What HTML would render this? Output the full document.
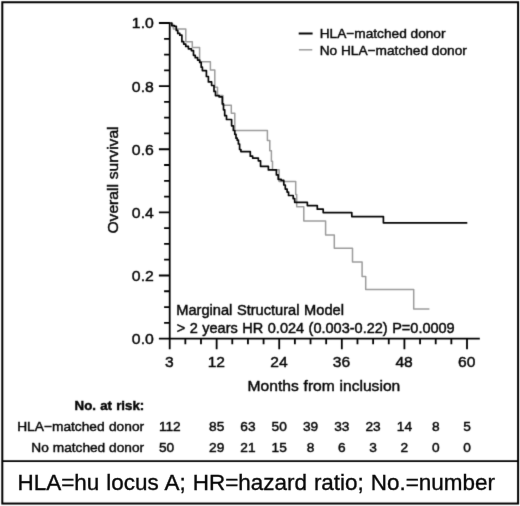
<!DOCTYPE html>
<html><head><meta charset="utf-8"><title>Overall survival</title>
<style>
html,body{margin:0;padding:0;background:#fff;}
body{width:520px;height:506px;overflow:hidden;}
svg{display:block;}
svg text{font-family:"Liberation Sans",sans-serif;fill:#050505;stroke:#050505;stroke-width:0.45px;}
</style></head><body>
<svg width="520" height="506" viewBox="0 0 520 506">
<defs><filter id="bl" x="0" y="0" width="520" height="506" filterUnits="userSpaceOnUse" color-interpolation-filters="sRGB"><feConvolveMatrix order="3" kernelMatrix="0.0113 0.0838 0.0113 0.0838 0.6193 0.0838 0.0113 0.0838 0.0113" edgeMode="duplicate" preserveAlpha="false"/></filter><filter id="bl2" x="0" y="462" width="520" height="44" filterUnits="userSpaceOnUse" color-interpolation-filters="sRGB"><feConvolveMatrix order="3" kernelMatrix="0.0009 0.0278 0.0009 0.0278 0.8855 0.0278 0.0009 0.0278 0.0009" edgeMode="duplicate" preserveAlpha="false"/></filter></defs>
<rect x="0" y="0" width="520" height="506" fill="#ffffff"/>
<g filter="url(#bl)">
<path d="M169.7,22.2 V349.3" stroke="#000" stroke-width="1.8" fill="none"/>
<path d="M158.89999999999998,338.6 H479.8" stroke="#000" stroke-width="1.8" fill="none"/>
<path d="M164.1,322.82 H169.7 M164.1,307.04 H169.7 M164.1,291.26 H169.7 M158.89999999999998,275.48 H169.7 M164.1,259.70 H169.7 M164.1,243.92 H169.7 M164.1,228.14 H169.7 M158.89999999999998,212.36 H169.7 M164.1,196.58 H169.7 M164.1,180.80 H169.7 M164.1,165.02 H169.7 M158.89999999999998,149.24 H169.7 M164.1,133.46 H169.7 M164.1,117.68 H169.7 M164.1,101.90 H169.7 M158.89999999999998,86.12 H169.7 M164.1,70.34 H169.7 M164.1,54.56 H169.7 M164.1,38.78 H169.7 M158.89999999999998,23.00 H169.7 " stroke="#000" stroke-width="1.8" fill="none"/>
<path d="M185.35,338.6 V344.20000000000005 M200.99,338.6 V344.20000000000005 M216.64,338.6 V349.3 M232.29,338.6 V344.20000000000005 M247.94,338.6 V344.20000000000005 M263.58,338.6 V344.20000000000005 M279.23,338.6 V349.3 M294.88,338.6 V344.20000000000005 M310.53,338.6 V344.20000000000005 M326.17,338.6 V344.20000000000005 M341.82,338.6 V349.3 M357.47,338.6 V344.20000000000005 M373.12,338.6 V344.20000000000005 M388.76,338.6 V344.20000000000005 M404.41,338.6 V349.3 M420.06,338.6 V344.20000000000005 M435.71,338.6 V344.20000000000005 M451.35,338.6 V344.20000000000005 M467.00,338.6 V349.3 " stroke="#000" stroke-width="1.8" fill="none"/>
<text transform="translate(153.80,344.00) scale(1,0.96)" font-size="15.8" text-anchor="end">0.0</text>
<text transform="translate(153.80,280.88) scale(1,0.96)" font-size="15.8" text-anchor="end">0.2</text>
<text transform="translate(153.80,217.76) scale(1,0.96)" font-size="15.8" text-anchor="end">0.4</text>
<text transform="translate(153.80,154.64) scale(1,0.96)" font-size="15.8" text-anchor="end">0.6</text>
<text transform="translate(153.80,91.52) scale(1,0.96)" font-size="15.8" text-anchor="end">0.8</text>
<text transform="translate(153.80,28.40) scale(1,0.96)" font-size="15.8" text-anchor="end">1.0</text>
<text transform="translate(169.40,367.20) scale(1,0.96)" font-size="15.6" text-anchor="middle">3</text>
<text transform="translate(216.34,367.20) scale(1,0.96)" font-size="15.6" text-anchor="middle">12</text>
<text transform="translate(278.93,367.20) scale(1,0.96)" font-size="15.6" text-anchor="middle">24</text>
<text transform="translate(341.52,367.20) scale(1,0.96)" font-size="15.6" text-anchor="middle">36</text>
<text transform="translate(404.11,367.20) scale(1,0.96)" font-size="15.6" text-anchor="middle">48</text>
<text transform="translate(466.70,367.20) scale(1,0.96)" font-size="15.6" text-anchor="middle">60</text>
<text transform="translate(323.90,390.70) scale(1,0.96)" font-size="15.6" text-anchor="middle" word-spacing="0.5">Months from inclusion</text>
<text transform="translate(117.50,180.00) rotate(-90) scale(1,0.96)" font-size="15.6" text-anchor="middle" word-spacing="0.5">Overall survival</text>
<polyline points="170.3,23.1 172.5,23.5 173.5,29 185.8,29 185.8,41.7 192.3,41.7 192.3,47.6 199.6,47.6 199.6,61.8 210.4,61.8 210.4,70.1 214.8,70.1 214.8,87.3 217.5,87.3 217.5,95.6 222.9,95.6 222.9,105.2 231.3,105.2 231.3,113.3 234.8,113.3 234.8,130.5 267.4,130.5 267.4,140.6 269.8,140.6 269.8,150.7 271.4,150.7 271.4,161.3 272.5,161.3 272.5,169.8 279.1,169.8 279.1,181.6 295.7,181.6 295.7,194.5 296.7,194.5 296.7,206.8 303.8,206.8 303.8,221.1 325.6,221.1 325.6,235 334.3,235 334.3,248.2 352.5,248.2 352.5,262.1 362.1,262.1 362.1,276.5 365.7,276.5 365.7,289.5 413.7,289.5 413.7,309 429.4,309" stroke="#9c9c9c" stroke-width="1.5" fill="none" stroke-linejoin="round"/>
<path d="M170.3,23.1 H171.80 V25.7 H173.3 H174.50 V26.3 H175.7 H176.30 V30.4 H176.9 H177.75 V33.4 H178.6 H179.80 V35.2 H181 H181.90 V41.7 H182.8 H183.70 V44.1 H184.6 H185.75 V46.4 H186.9 H188.40 V48.8 H189.9 H191.40 V50.6 H192.9 H193.50 V55.3 H194.1 H195.25 V57.7 H196.4 H197.60 V60.1 H198.8 H199.70 V62.4 H200.6 H201.20 V67.2 H201.8 H202.40 V70.6 H203 H204.40 V70.6 H205.8 H206.40 V76.5 H207 H208.40 V81.9 H209.8 H211.60 V85.5 H213.4 H214.00 V91.4 H214.6 H215.50 V95.6 H216.4 H219.05 V96.8 H221.7 H222.30 V103.9 H222.9 H223.50 V109.8 H224.1 H224.70 V115.7 H225.3 H226.50 V119.5 H227.7 H229.20 V119.5 H230.7 H231.60 V125.8 H232.5 H233.35 V130.5 H234.2 H234.80 V134.3 H235.4 H236.00 V138.2 H236.6 H237.20 V140.2 H237.8 H238.40 V144 H239 H239.60 V149.5 H240.2 H240.90 V151.6 H241.6 H245.35 V151.6 H249.1 H250.30 V156.2 H251.5 H252.65 V158.1 H253.8 H255.30 V158.1 H256.8 H258.35 V160.8 H259.9 H260.55 V166.3 H261.2 H264.50 V166.3 H267.8 H268.40 V169.9 H269 H272.25 V169.9 H275.5 H276.40 V174.9 H277.3 H278.20 V179.3 H279.1 H281.15 V180.4 H283.2 H283.80 V185 H284.4 H285.30 V189.1 H286.2 H287.10 V192.1 H288 H288.55 V195.5 H289.1 H290.80 V195.5 H292.5 H293.20 V198.6 H293.9 H294.70 V202.3 H295.5 H301.10 V202.3 H306.7 H307.35 V205.6 H308 H312.35 V205.6 H316.7 H317.30 V209.2 H317.9 H320.25 V209.2 H322.6 H323.20 V212.6 H323.8 H337.80 V212.6 H351.8 H351.80 V216.6 H351.8 H367.60 V216.6 H383.4 H383.40 V222.8 H383.4 H425.35 V222.8 H467.3" stroke="#050505" stroke-width="1.7" fill="none" stroke-linejoin="round"/>
<path d="M298.7,33.5 H312.6" stroke="#050505" stroke-width="2"/>
<path d="M298.9,49.8 H312.3" stroke="#9c9c9c" stroke-width="1.5"/>
<text transform="translate(319.70,38.10) scale(1,0.96)" font-size="13.7">HLA−matched donor</text>
<text transform="translate(319.70,54.60) scale(1,0.96)" font-size="13.7">No HLA−matched donor</text>
<text transform="translate(176.20,315.20) scale(1,0.96)" font-size="14.65" word-spacing="0.5">Marginal Structural Model</text>
<text transform="translate(176.70,332.70) scale(1,0.96)" font-size="14.52" word-spacing="0.5">&gt; 2 years HR 0.024 (0.003-0.22) P=0.0009</text>
<text transform="translate(144.20,410.20) scale(1,0.96)" font-size="13.3" text-anchor="end" font-weight="bold" word-spacing="0.5">No. at risk:</text>
<text transform="translate(144.10,430.70) scale(1,0.96)" font-size="13.75" text-anchor="end" word-spacing="0.5">HLA−matched donor</text>
<text transform="translate(144.10,451.50) scale(1,0.96)" font-size="13.7" text-anchor="end" word-spacing="0.1">No matched donor</text>
<text transform="translate(158.90,430.80) scale(1,1.0)" font-size="13.7">112</text>
<text transform="translate(216.64,430.80) scale(1,1.0)" font-size="13.7" text-anchor="middle">85</text>
<text transform="translate(247.94,430.80) scale(1,1.0)" font-size="13.7" text-anchor="middle">63</text>
<text transform="translate(279.23,430.80) scale(1,1.0)" font-size="13.7" text-anchor="middle">50</text>
<text transform="translate(310.53,430.80) scale(1,1.0)" font-size="13.7" text-anchor="middle">39</text>
<text transform="translate(341.82,430.80) scale(1,1.0)" font-size="13.7" text-anchor="middle">33</text>
<text transform="translate(373.12,430.80) scale(1,1.0)" font-size="13.7" text-anchor="middle">23</text>
<text transform="translate(404.41,430.80) scale(1,1.0)" font-size="13.7" text-anchor="middle">14</text>
<text transform="translate(435.71,430.80) scale(1,1.0)" font-size="13.7" text-anchor="middle">8</text>
<text transform="translate(467.00,430.80) scale(1,1.0)" font-size="13.7" text-anchor="middle">5</text>
<text transform="translate(158.90,451.80) scale(1,1.0)" font-size="13.7">50</text>
<text transform="translate(216.64,451.80) scale(1,1.0)" font-size="13.7" text-anchor="middle">29</text>
<text transform="translate(247.94,451.80) scale(1,1.0)" font-size="13.7" text-anchor="middle">21</text>
<text transform="translate(279.23,451.80) scale(1,1.0)" font-size="13.7" text-anchor="middle">15</text>
<text transform="translate(310.53,451.80) scale(1,1.0)" font-size="13.7" text-anchor="middle">8</text>
<text transform="translate(341.82,451.80) scale(1,1.0)" font-size="13.7" text-anchor="middle">6</text>
<text transform="translate(373.12,451.80) scale(1,1.0)" font-size="13.7" text-anchor="middle">3</text>
<text transform="translate(404.41,451.80) scale(1,1.0)" font-size="13.7" text-anchor="middle">2</text>
<text transform="translate(435.71,451.80) scale(1,1.0)" font-size="13.7" text-anchor="middle">0</text>
<text transform="translate(467.00,451.80) scale(1,1.0)" font-size="13.7" text-anchor="middle">0</text>
<rect x="2.3" y="2.25" width="515.8" height="501.3" fill="none" stroke="#000" stroke-width="2.0"/>
<path d="M2.3,461.2 H518.1" stroke="#000" stroke-width="1.7"/>
</g>
<g filter="url(#bl2)">
<text style="stroke-width:0.35px" transform="translate(17.60,490.30) scale(1,1.0)" font-size="22.45" word-spacing="0.8">HLA=hu locus A; HR=hazard ratio; No.=number</text>
</g>
</svg>
</body></html>
